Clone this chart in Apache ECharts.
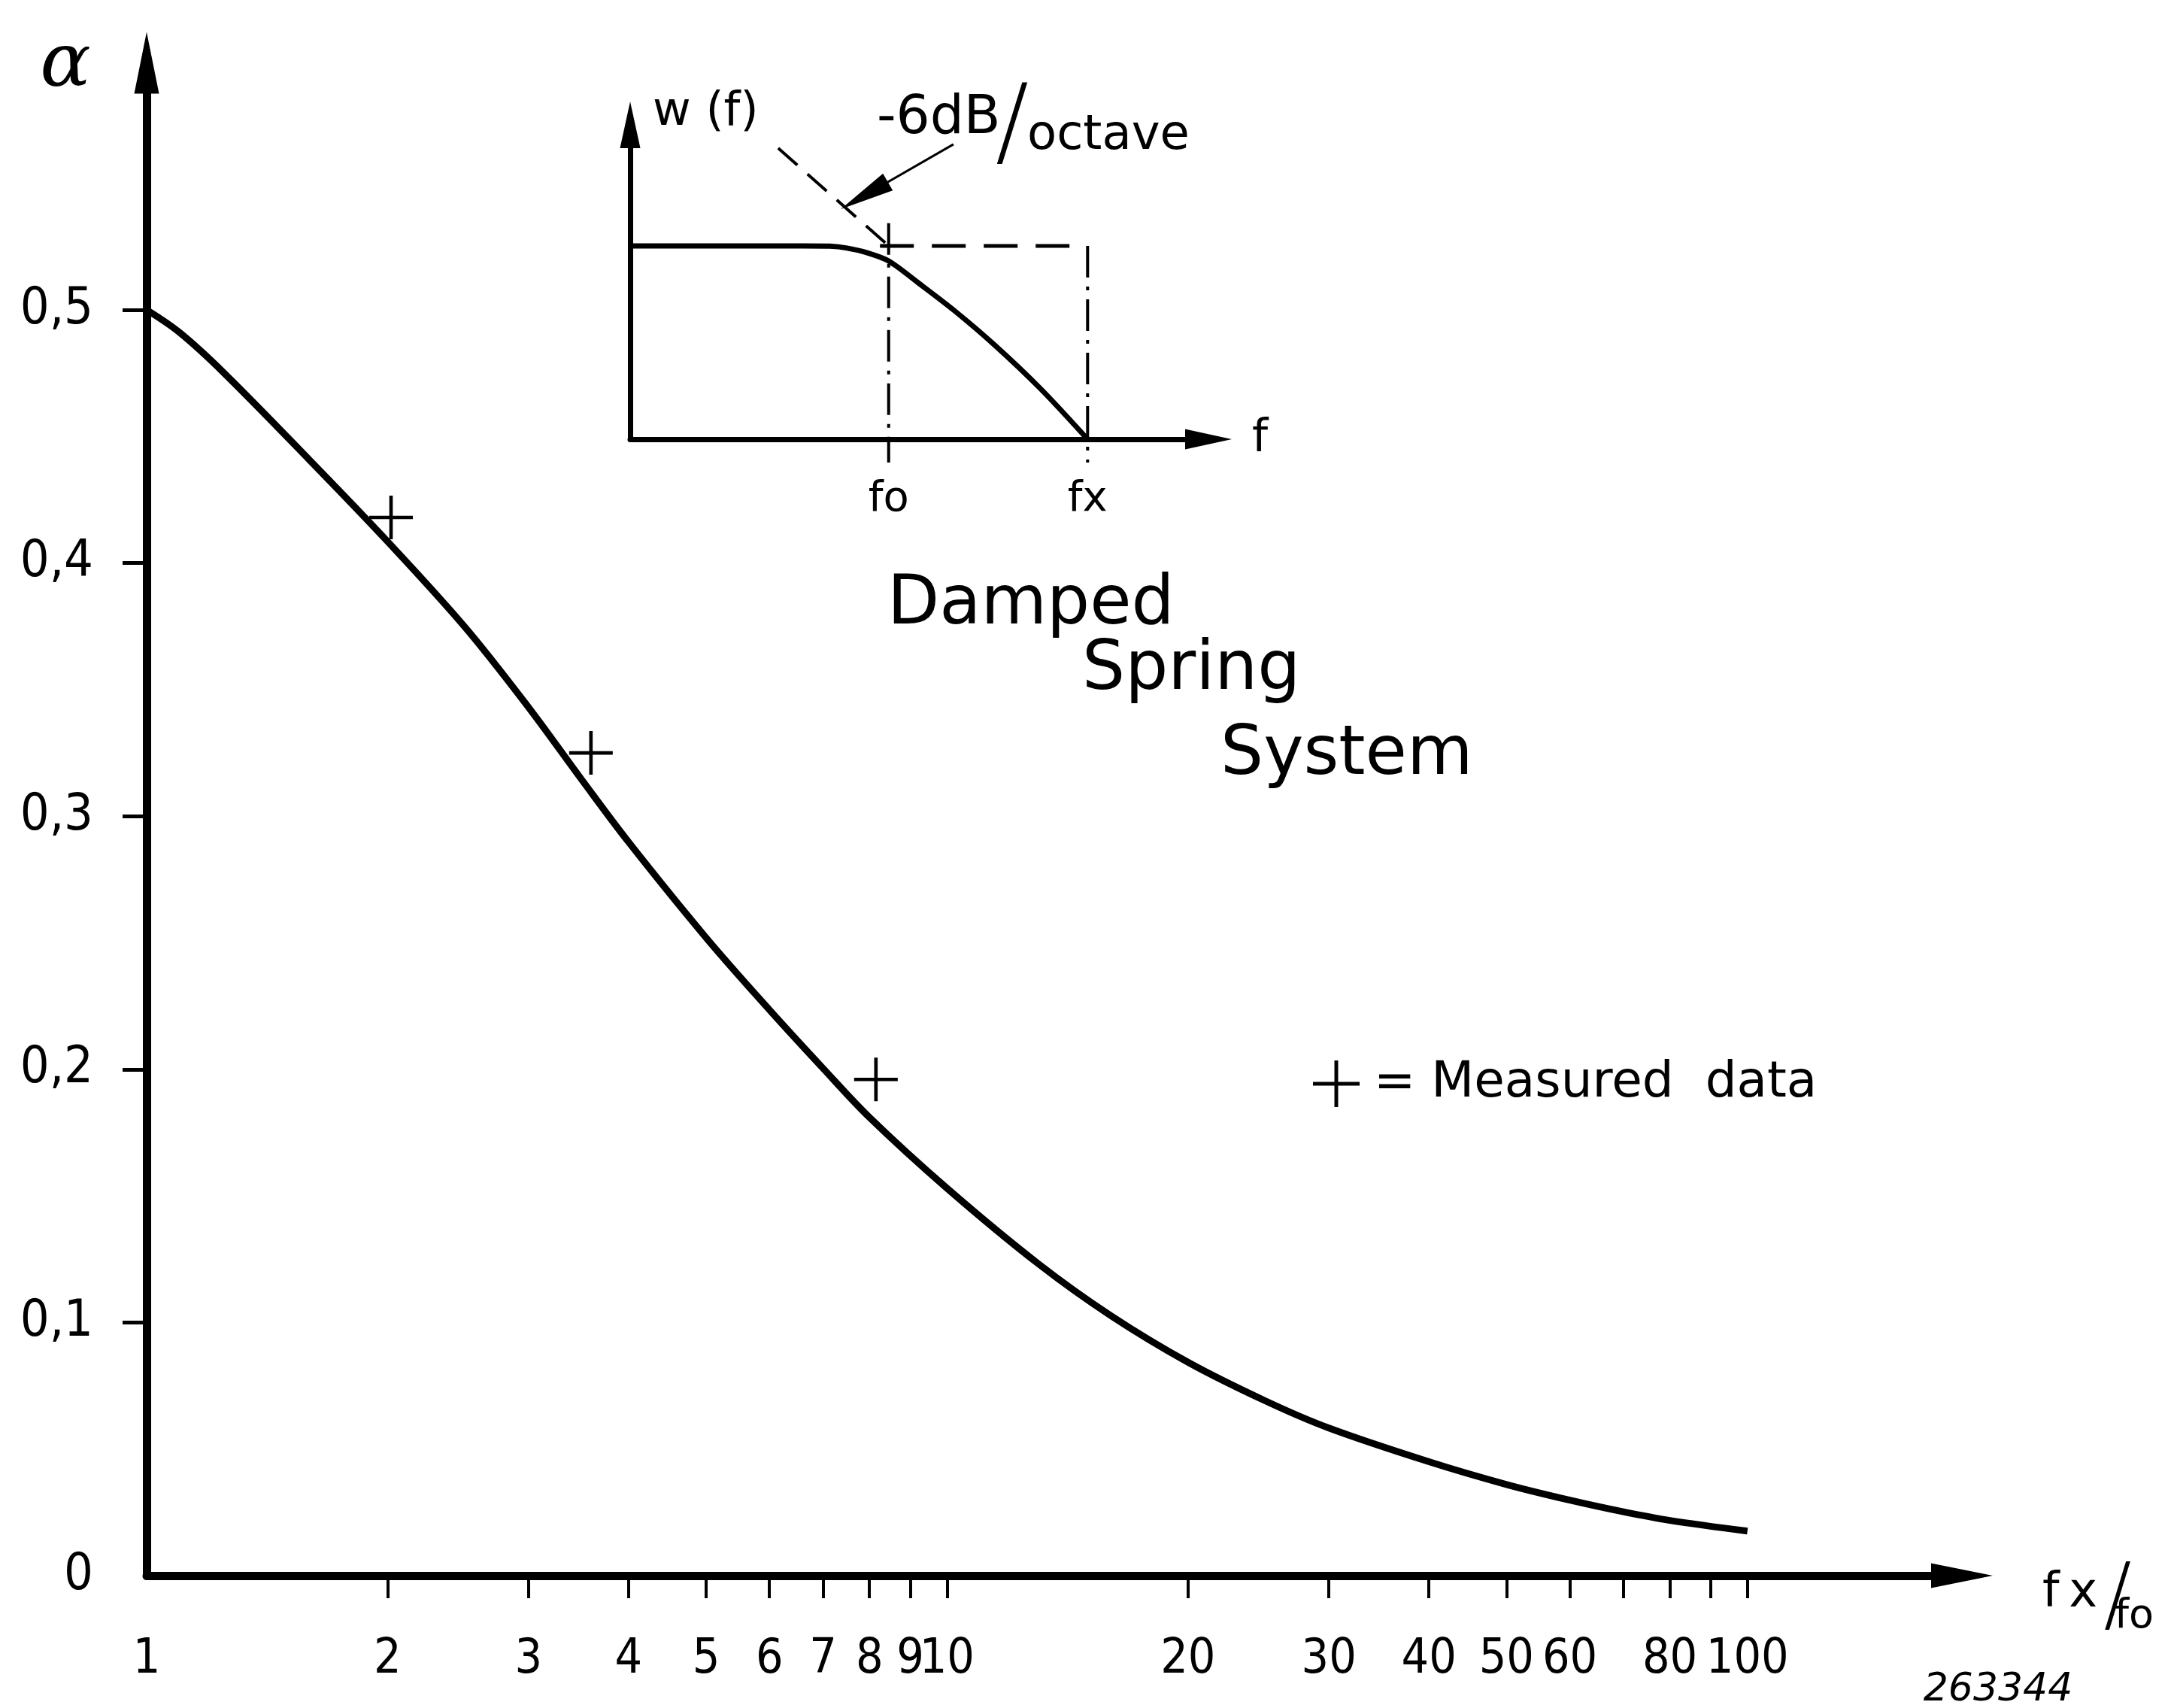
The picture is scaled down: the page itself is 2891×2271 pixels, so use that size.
<!DOCTYPE html>
<html>
<head>
<meta charset="utf-8">
<script src="https://cdn.jsdelivr.net/npm/echarts@6/dist/echarts.min.js"></script>
<style>
  html, body { margin: 0; padding: 0; background: #ffffff; }
  #chart { width: 2891px; height: 2271px; }
</style>
</head>
<body>
<div id="chart"></div>
<script>
// Damping coefficient alpha of a damped spring system versus frequency ratio fx/fo
const ratioFx    = [1, 1.1, 1.25, 1.6, 2, 2.5, 3, 3.5, 4, 5, 6, 7, 8, 10, 13, 16, 20, 25, 30, 40, 50, 60, 70, 80, 100];
const alphaCurve = [0.5, 0.491, 0.475, 0.4405, 0.4085, 0.3746, 0.343, 0.3142, 0.2898, 0.252, 0.2235, 0.2004, 0.181, 0.153, 0.1232, 0.1028, 0.0843, 0.069, 0.0583, 0.045, 0.036, 0.0298, 0.0252, 0.0218, 0.0176];

// measured points
const measuredRatio = [2.02, 3.59, 8.15];
const measuredAlpha = [0.418, 0.325, 0.196];

// axis ticks and labels
const xTickValues  = [2, 3, 4, 5, 6, 7, 8, 9, 10, 20, 30, 40, 50, 60, 70, 80, 90, 100];
const xLabelValues = [1, 2, 3, 4, 5, 6, 7, 8, 9, 10, 20, 30, 40, 50, 60, 80, 100];
const yLabelValues = [0, 0.1, 0.2, 0.3, 0.4, 0.5];
const yTickValues  = [0.1, 0.2, 0.3, 0.4, 0.5];

// inset: sketch of the weighting function w(f)
const insetFreq     = [0, 3.0, 3.45, 3.75, 4.1, 4.47, 5.0, 5.6, 6.3, 7.1, 7.91];
const insetResponse = [6.15, 6.15, 6.14, 6.08, 5.93, 5.67, 4.95, 4.1, 3.0, 1.6, 0];
const foPos = 4.47;
const fxPos = 7.91;
const passLevel = 6.15;
const asymptoteStart = [2.56, 9.26];
const pointerFrom = [5.59, 9.38];
const pointerTo   = [4.05, 7.75];

const NARROW = "'Liberation Sans Narrow','DejaVu Sans Condensed','DejaVu Sans',sans-serif";
const SANS = "'DejaVu Sans',sans-serif";
const INK = '#000000';

const plusPath = 'path://M-0.04,-0.5 L0.04,-0.5 L0.04,-0.04 L0.5,-0.04 L0.5,0.04 L0.04,0.04 L0.04,0.5 L-0.04,0.5 L-0.04,0.04 L-0.5,0.04 L-0.5,-0.04 L-0.04,-0.04 Z';

const lg = v => Math.log10(v);

const chart = echarts.init(document.getElementById('chart'), null, { renderer: 'canvas' });

const option = {
  backgroundColor: '#ffffff',
  animation: false,
  grid: [
    { left: 195, right: 282, top: 83.5, bottom: 176, containLabel: false, outerBoundsMode: 'none' },
    { left: 838, right: 1284, top: 166, bottom: 1687, containLabel: false, outerBoundsMode: 'none' }
  ],
  xAxis: [
    {
      gridIndex: 0, type: 'value', min: 0, max: 2.268,
      splitLine: { show: false },
      axisLine: { show: true, symbol: ['none', 'triangle'], symbolSize: [33, 82], lineStyle: { color: INK, width: 11 } },
      axisTick: { show: true, inside: false, length: 30, customValues: xTickValues.map(lg), lineStyle: { color: INK, width: 4 } },
      axisLabel: {
        show: true, margin: 80, customValues: xLabelValues.map(lg),
        formatter: v => String(Math.round(Math.pow(10, v))),
        color: INK, fontFamily: NARROW, fontSize: 64, verticalAlign: 'top'
      }
    },
    {
      gridIndex: 1, type: 'value', min: 0, max: 10,
      splitLine: { show: false },
      axisLine: { show: true, symbol: ['none', 'triangle'], symbolSize: [27, 62], lineStyle: { color: INK, width: 7 } },
      axisTick: { show: false },
      axisLabel: {
        show: true, margin: 52, customValues: [foPos, fxPos],
        formatter: v => (Math.abs(v - foPos) < 0.01 ? 'fo' : 'fx'),
        color: INK, fontFamily: SANS, fontSize: 56, verticalAlign: 'top'
      },
      name: 'f', nameLocation: 'end', nameGap: 58,
      nameTextStyle: { color: INK, fontFamily: SANS, fontSize: 60, align: 'left', verticalAlign: 'middle' }
    }
  ],
  yAxis: [
    {
      gridIndex: 0, type: 'value', min: 0, max: 0.5976,
      splitLine: { show: false },
      axisLine: { show: true, symbol: ['none', 'triangle'], symbolSize: [33, 82], lineStyle: { color: INK, width: 11 } },
      axisTick: { show: true, inside: false, length: 32, customValues: yTickValues, lineStyle: { color: INK, width: 5 } },
      axisLabel: {
        show: true, margin: 71, customValues: yLabelValues,
        formatter: v => (v === 0 ? '0' : v.toFixed(1).replace('.', ',')),
        color: INK, fontFamily: NARROW, fontSize: 68
      }
    },
    {
      gridIndex: 1, type: 'value', min: 0, max: 10,
      splitLine: { show: false },
      axisLine: { show: true, symbol: ['none', 'triangle'], symbolSize: [27, 62], lineStyle: { color: INK, width: 7 } },
      axisTick: { show: false },
      axisLabel: { show: false },
      name: 'w (f)', nameLocation: 'end', nameGap: 16,
      nameTextStyle: { color: INK, fontFamily: SANS, fontSize: 62, align: 'left', verticalAlign: 'middle', padding: [0, 0, 0, 30] }
    }
  ],
  legend: {
    show: true, left: 1741, top: 1403, orient: 'horizontal',
    itemWidth: 66, itemHeight: 62,
    data: [{ name: 'Measured data', icon: plusPath }],
    formatter: () => '= Measured  data',
    textStyle: { color: INK, fontFamily: SANS, fontSize: 66, padding: [0, 0, 0, 12] }
  },
  series: [
    {
      name: 'alpha', type: 'line', xAxisIndex: 0, yAxisIndex: 0,
      data: ratioFx.map((x, i) => [lg(x), alphaCurve[i]]),
      smooth: 0.35, showSymbol: false, symbol: 'none',
      lineStyle: { color: INK, width: 9 }, z: 3
    },
    {
      name: 'Measured data', type: 'scatter', xAxisIndex: 0, yAxisIndex: 0,
      data: measuredRatio.map((x, i) => [lg(x), measuredAlpha[i]]),
      symbol: plusPath, symbolSize: [58, 58],
      itemStyle: { color: INK, opacity: 1 }, z: 4
    },
    {
      name: 'w(f)', type: 'line', xAxisIndex: 1, yAxisIndex: 1, clip: false,
      data: insetFreq.map((f, i) => [f, insetResponse[i]]),
      smooth: 0.3, showSymbol: false, symbol: 'none',
      lineStyle: { color: INK, width: 7 }
    },
    {
      name: 'pass level', type: 'line', xAxisIndex: 1, yAxisIndex: 1, clip: false,
      data: [[foPos - 0.15, passLevel], [fxPos, passLevel]],
      showSymbol: false, symbol: 'none',
      lineStyle: { color: INK, width: 5, type: [45, 24] }
    },
    {
      name: 'fo marker', type: 'line', xAxisIndex: 1, yAxisIndex: 1, clip: false,
      data: [[foPos, 6.87], [foPos, -0.74]],
      showSymbol: false, symbol: 'none',
      lineStyle: { color: INK, width: 4, type: [42, 12, 5, 12] }
    },
    {
      name: 'fx marker', type: 'line', xAxisIndex: 1, yAxisIndex: 1, clip: false,
      data: [[fxPos, passLevel], [fxPos, -0.74]],
      showSymbol: false, symbol: 'none',
      lineStyle: { color: INK, width: 4, type: [42, 12, 5, 12] }
    },
    {
      name: 'asymptote', type: 'line', xAxisIndex: 1, yAxisIndex: 1, clip: false,
      data: [asymptoteStart, [foPos, passLevel]],
      showSymbol: false, symbol: 'none',
      lineStyle: { color: INK, width: 4, type: [34, 18] },
      markLine: {
        silent: true, animation: false,
        symbol: ['none', 'triangle'], symbolSize: [26, 72],
        label: { show: false },
        lineStyle: { color: INK, width: 3, type: 'solid' },
        data: [[{ coord: pointerFrom }, { coord: pointerTo }]]
      }
    }
  ],
  graphic: [
    { type: 'text', x: 87, y: 88, style: { text: 'α', font: "italic 100px 'DejaVu Serif'", fill: INK, align: 'center', verticalAlign: 'middle' } },
    { type: 'text', x: 1180, y: 806, style: { text: 'Damped', font: "90px 'DejaVu Sans'", fill: INK, align: 'left', verticalAlign: 'middle' } },
    { type: 'text', x: 1439, y: 893, style: { text: 'Spring', font: "90px 'DejaVu Sans'", fill: INK, align: 'left', verticalAlign: 'middle' } },
    { type: 'text', x: 1623, y: 1006, style: { text: 'System', font: "90px 'DejaVu Sans'", fill: INK, align: 'left', verticalAlign: 'middle' } },
    { type: 'text', x: 1166, y: 159, style: { text: '-6dB', font: "71px 'DejaVu Sans'", fill: INK, align: 'left', verticalAlign: 'middle' } },
    { type: 'text', x: 1346, y: 172, style: { text: '/', font: "200 132px 'DejaVu Sans'", fill: INK, align: 'center', verticalAlign: 'middle' } },
    { type: 'text', x: 1366, y: 181, style: { text: 'octave', font: "64px 'DejaVu Sans'", fill: INK, align: 'left', verticalAlign: 'middle' } },
    { type: 'text', x: 2716, y: 2119, style: { text: 'f\u2009x', font: "64px 'DejaVu Sans'", fill: INK, align: 'left', verticalAlign: 'middle' } },
    { type: 'text', x: 2816, y: 2128, style: { text: '/', font: "200 110px 'DejaVu Sans'", fill: INK, align: 'center', verticalAlign: 'middle' } },
    { type: 'text', x: 2812, y: 2150, style: { text: 'fo', font: "54px 'DejaVu Sans'", fill: INK, align: 'left', verticalAlign: 'middle' } },
    { type: 'text', x: 2657, y: 2247, style: { text: '263344', font: "italic 52px 'DejaVu Sans'", fill: INK, align: 'center', verticalAlign: 'middle' } }
  ]
};

chart.setOption(option);
</script>
</body>
</html>
